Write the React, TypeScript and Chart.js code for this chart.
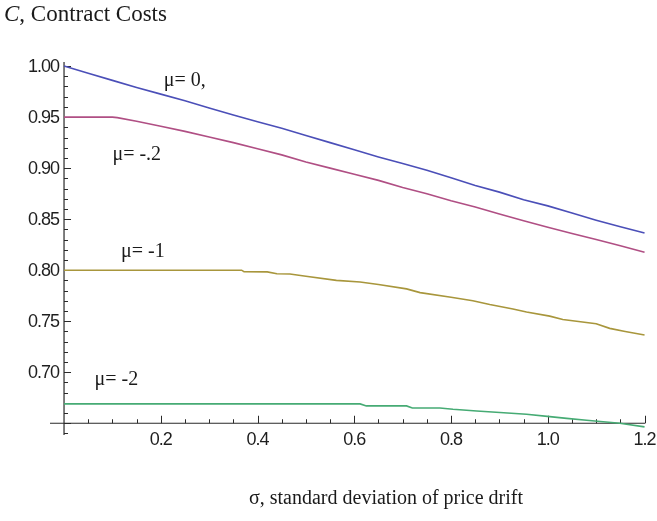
import { useEffect, useRef } from "react";
import { Chart, registerables } from "chart.js";

Chart.register(...registerables);

// σ (standard deviation of price drift) and contract cost C for each drift μ
const sigmaMu0 = [0, 0.05, 0.1, 0.15, 0.2, 0.25, 0.3, 0.35, 0.4, 0.45, 0.5, 0.55, 0.6, 0.65, 0.7, 0.75, 0.8, 0.85, 0.9, 0.95, 1.0, 1.05, 1.1, 1.15, 1.2];
const costMu0 = [1.0, 0.993, 0.986, 0.979, 0.9725, 0.966, 0.959, 0.952, 0.9455, 0.939, 0.932, 0.925, 0.918, 0.911, 0.9045, 0.898, 0.8905, 0.883, 0.8765, 0.869, 0.863, 0.856, 0.849, 0.8425, 0.8365];

const sigmaMuM02 = [0, 0.05, 0.1, 0.11, 0.15, 0.2, 0.25, 0.3, 0.35, 0.4, 0.45, 0.5, 0.55, 0.6, 0.65, 0.7, 0.75, 0.8, 0.85, 0.9, 0.95, 1.0, 1.05, 1.1, 1.15, 1.2];
const costMuM02 = [0.95, 0.95, 0.95, 0.9495, 0.946, 0.941, 0.936, 0.9305, 0.925, 0.919, 0.913, 0.906, 0.9, 0.894, 0.888, 0.881, 0.875, 0.868, 0.862, 0.855, 0.8485, 0.842, 0.836, 0.83, 0.824, 0.8175];

const sigmaMuM1 = [0, 0.367, 0.372, 0.42, 0.44, 0.467, 0.5, 0.563, 0.612, 0.65, 0.708, 0.736, 0.8, 0.845, 0.88, 0.928, 0.956, 1.004, 1.031, 1.1, 1.128, 1.16, 1.2];
const costMuM1 = [0.8, 0.8, 0.7985, 0.7983, 0.7965, 0.7963, 0.794, 0.79, 0.7885, 0.786, 0.7817, 0.778, 0.7735, 0.77, 0.7664, 0.762, 0.759, 0.755, 0.7517, 0.7475, 0.743, 0.74, 0.7365];

const sigmaMuM2 = [0, 0.612, 0.625, 0.708, 0.72, 0.777, 0.804, 0.853, 0.901, 0.956, 1.004, 1.039, 1.08, 1.149, 1.2];
const costMuM2 = [0.669, 0.669, 0.667, 0.667, 0.665, 0.665, 0.6637, 0.662, 0.6605, 0.6588, 0.6565, 0.6548, 0.6529, 0.65, 0.6465];

const seriesLabels = ["μ= 0,", "μ= -.2", "μ= -1", "μ= -2"];
const seriesColors = ["#4b4fb8", "#b04f84", "#a8963c", "#46ab74"];

const yTickValues = [1.0, 0.95, 0.9, 0.85, 0.8, 0.75, 0.7];
const yTickLabels = ["1.00", "0.95", "0.90", "0.85", "0.80", "0.75", "0.70"];
const xTickValues = [0.2, 0.4, 0.6, 0.8, 1.0, 1.2];
const xTickLabels = ["0.2", "0.4", "0.6", "0.8", "1.0", "1.2"];

const yTitle = "Contract Costs";
const yTitleSymbol = "C";
const xTitle = "σ, standard deviation of price drift";

// where each curve's μ label sits, in data coordinates (left edge, baseline)
const labelAnchors = [
  { x: 0.206, y: 0.98 },
  { x: 0.1, y: 0.9075 },
  { x: 0.118, y: 0.8125 },
  { x: 0.063, y: 0.6875 },
];

const AXIS_COLOR = "#2a2a2a";
const TICK_FONT = "18px 'Liberation Sans', Arial, sans-serif";
const SERIF = "'Liberation Serif', 'Times New Roman', serif";

const toPoints = (xs: number[], ys: number[]) => xs.map((x, i) => ({ x, y: ys[i] }));

// Axes drawn through the origin (0, 0.65) with inward ticks
const crossAxesPlugin = {
  id: "crossAxes",
  beforeDatasetsDraw(chart: any) {
    const { ctx, chartArea } = chart;
    const xs = chart.scales.x;
    const ys = chart.scales.y;
    const x0 = xs.getPixelForValue(0);
    const yBase = ys.getPixelForValue(0.65);
    const xEnd = xs.getPixelForValue(1.2);
    ctx.save();
    ctx.strokeStyle = AXIS_COLOR;
    ctx.lineWidth = 1.2;
    ctx.beginPath();
    ctx.moveTo(chartArea.left, yBase);
    ctx.lineTo(xEnd + 0.6, yBase);
    ctx.moveTo(x0, chartArea.top);
    ctx.lineTo(x0, chartArea.bottom);
    ctx.stroke();

    ctx.lineWidth = 1;
    ctx.beginPath();
    for (let i = 64; i <= 100; i++) {
      const py = Math.round(ys.getPixelForValue(i / 100)) + 0.5;
      const len = i % 5 === 0 ? 7 : 4;
      ctx.moveTo(x0, py);
      ctx.lineTo(x0 + len, py);
    }
    for (let i = 1; i <= 24; i++) {
      const px = Math.round(xs.getPixelForValue(i * 0.05)) + 0.5;
      const len = i % 4 === 0 ? 7.5 : 4;
      ctx.moveTo(px, yBase);
      ctx.lineTo(px, yBase - len);
    }
    ctx.stroke();

    ctx.fillStyle = "#1e1e1e";
    ctx.font = TICK_FONT;
    (ctx as any).letterSpacing = "-1px";
    ctx.textAlign = "right";
    ctx.textBaseline = "middle";
    yTickValues.forEach((v, i) => {
      ctx.fillText(yTickLabels[i], x0 - 5, ys.getPixelForValue(v) + 1);
    });
    ctx.textAlign = "center";
    ctx.textBaseline = "top";
    xTickValues.forEach((v, i) => {
      ctx.fillText(xTickLabels[i], xs.getPixelForValue(v), yBase + 8);
    });
    ctx.restore();
  },
  afterDraw(chart: any) {
    const { ctx } = chart;
    const xs = chart.scales.x;
    const ys = chart.scales.y;
    ctx.save();
    ctx.fillStyle = "#1a1a1a";
    ctx.textBaseline = "alphabetic";
    ctx.textAlign = "left";

    // vertical axis title
    ctx.font = `italic 23px ${SERIF}`;
    ctx.fillText(yTitleSymbol, 4, 21);
    const w = ctx.measureText(yTitleSymbol).width;
    ctx.font = `23px ${SERIF}`;
    ctx.fillText(", " + yTitle, 4 + w, 21);

    // horizontal axis title
    ctx.font = `20px ${SERIF}`;
    ctx.textAlign = "center";
    ctx.fillText(xTitle, 386, 504);

    // curve labels
    ctx.textAlign = "left";
    ctx.font = `20px ${SERIF}`;
    labelAnchors.forEach((a, i) => {
      ctx.fillText(seriesLabels[i], xs.getPixelForValue(a.x), ys.getPixelForValue(a.y));
    });
    ctx.restore();
  },
};

export default function App() {
  const canvasRef = useRef<HTMLCanvasElement | null>(null);

  useEffect(() => {
    if (!canvasRef.current) return;
    const series = [
      toPoints(sigmaMu0, costMu0),
      toPoints(sigmaMuM02, costMuM02),
      toPoints(sigmaMuM1, costMuM1),
      toPoints(sigmaMuM2, costMuM2),
    ];
    const chart = new Chart(canvasRef.current, {
      type: "line",
      data: {
        datasets: series.map((data, i) => ({
          label: seriesLabels[i],
          data,
          borderColor: seriesColors[i],
          borderWidth: 1.6,
          pointRadius: 0,
          tension: 0,
          fill: false,
        })),
      },
      options: {
        animation: false,
        responsive: false,
        maintainAspectRatio: false,
        layout: { padding: { left: 50, right: 11, top: 62, bottom: 86 } },
        plugins: { legend: { display: false }, tooltip: { enabled: false } },
        scales: {
          x: { type: "linear", min: -0.029, max: 1.203, display: false },
          y: { type: "linear", min: 0.6385, max: 1.004, display: false },
        },
      },
      plugins: [crossAxesPlugin],
    });
    return () => chart.destroy();
  }, []);

  return (
    <div style={{ position: "absolute", left: 0, top: 0, width: 657, height: 521, background: "#fff" }}>
      <canvas ref={canvasRef} width={657} height={521} style={{ display: "block" }} />
    </div>
  );
}
